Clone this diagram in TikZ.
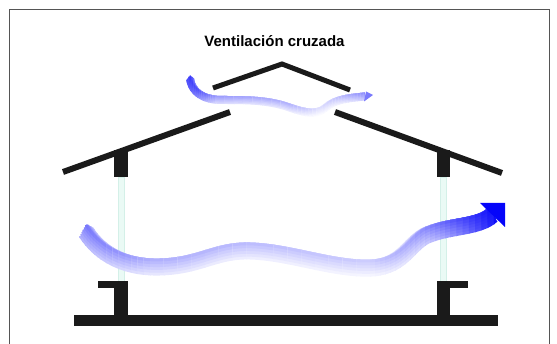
\documentclass[tikz,border=0pt]{standalone}
\usepackage{fontspec}
\setmainfont{Liberation Sans}

\definecolor{noir}{RGB}{26,26,26}
\definecolor{bleu}{RGB}{5,5,250}
\definecolor{vitre}{RGB}{234,250,245}
\definecolor{bordvitre}{RGB}{212,240,232}
\definecolor{cadre}{RGB}{85,85,85}

% axes des deux courants d'air
\newcommand{\grandflux}{(86,232) .. controls (100,254) and (125,268) .. (160,267)
  .. controls (200,266) and (215,250) .. (250,251)
  .. controls (290,252) and (335,270) .. (372,268)
  .. controls (405,266) and (410,240) .. (430,234)
  .. controls (450,226) and (480,227) .. (492,215)}
\newcommand{\petitflux}{(190,79) .. controls (192,92) and (203,100) .. (222,100)
  .. controls (245,100) and (265,100) .. (285,106)
  .. controls (300,111) and (315,117) .. (325,108)
  .. controls (335,99) and (350,98) .. (365,96.5)}

% bande degradee : #1 chemin, #2 epaisseur, #3 paliers x/x/%/%
\newcommand{\bandeflux}[3]{%
  \foreach \xa/\xb/\sa/\sb in {#3}{
    \foreach \k in {0,...,7}{
      \pgfmathsetmacro{\xl}{\xa+(\xb-\xa)*\k/8}
      \pgfmathsetmacro{\xr}{\xa+(\xb-\xa)*(\k+1)/8+0.8}
      \pgfmathsetmacro{\pc}{\sa+(\sb-\sa)*(\k+0.5)/8}
      \pgfmathsetmacro{\pa}{(\pc/10)*(\pc/10)}
      \begin{scope}
        \clip (\xl,0) rectangle (\xr,344);
        \foreach \j in {0,...,5}{
          \pgfmathsetmacro{\pj}{\pa+(\pc-\pa)*\j/5}
          \draw[line width={#2*(1-\j/6)*1pt}, bleu!\pj!white,
            yshift={#2*\j/12*1pt}] #1;
        }
      \end{scope}
    }
  }
}

\begin{document}
\begin{tikzpicture}[x=1pt,y=-1pt]
\tikzset{toit/.style={draw=noir, line cap=butt, line join=miter},
  mur/.style={fill=noir},
  vitrage/.style={fill=vitre, draw=bordvitre, line width=0.6pt},
  titre/.style={font=\bfseries\fontsize{15}{18}\selectfont, inner sep=0pt}}
\useasboundingbox (0,0) rectangle (557,344);
\clip (0,0) rectangle (557,344);
\draw[cadre, line width=1pt] (9,10) rectangle (549,360);

\node[titre, anchor=base] (titre) at (274.5,46.5) {Ventilación cruzada};

\draw[vitrage] (118,177) rectangle (124,281);
\draw[vitrage] (440,177) rectangle (446,281);

\bandeflux{\petitflux}{8}{183/197/88/70, 197/215/70/42, 215/290/40/30, 290/320/30/12, 320/345/12/30, 345/370/30/50}
\fill[bleu!53!white] (366,91.5) -- (373,95) -- (364,101.5) -- cycle;

\bandeflux{\grandflux}{17}{76/100/58/48, 100/150/48/32, 150/260/32/26, 260/370/26/20, 370/410/20/35, 410/450/35/65, 450/500/65/100}
\fill[bleu] (480,203) -- (505,203) -- (505,227) -- cycle;

\fill[mur] (114,150) rectangle (128,177);
\fill[mur] (436.5,150) rectangle (449.5,177);
\draw[toit, line width=5pt] (213,88) -- (282,64) -- (350,90);
\draw[toit, line width=6pt] (63,172) -- (230,112);
\draw[toit, line width=6pt] (335,112) -- (502,173);

\fill[mur] (74,315) rectangle (498,326);
\fill[mur] (98,281) rectangle (128,288);
\fill[mur] (114,281) rectangle (128,316);
\fill[mur] (436.5,281) rectangle (468,288);
\fill[mur] (436.5,281) rectangle (449.5,316);
\end{tikzpicture}
\end{document}
